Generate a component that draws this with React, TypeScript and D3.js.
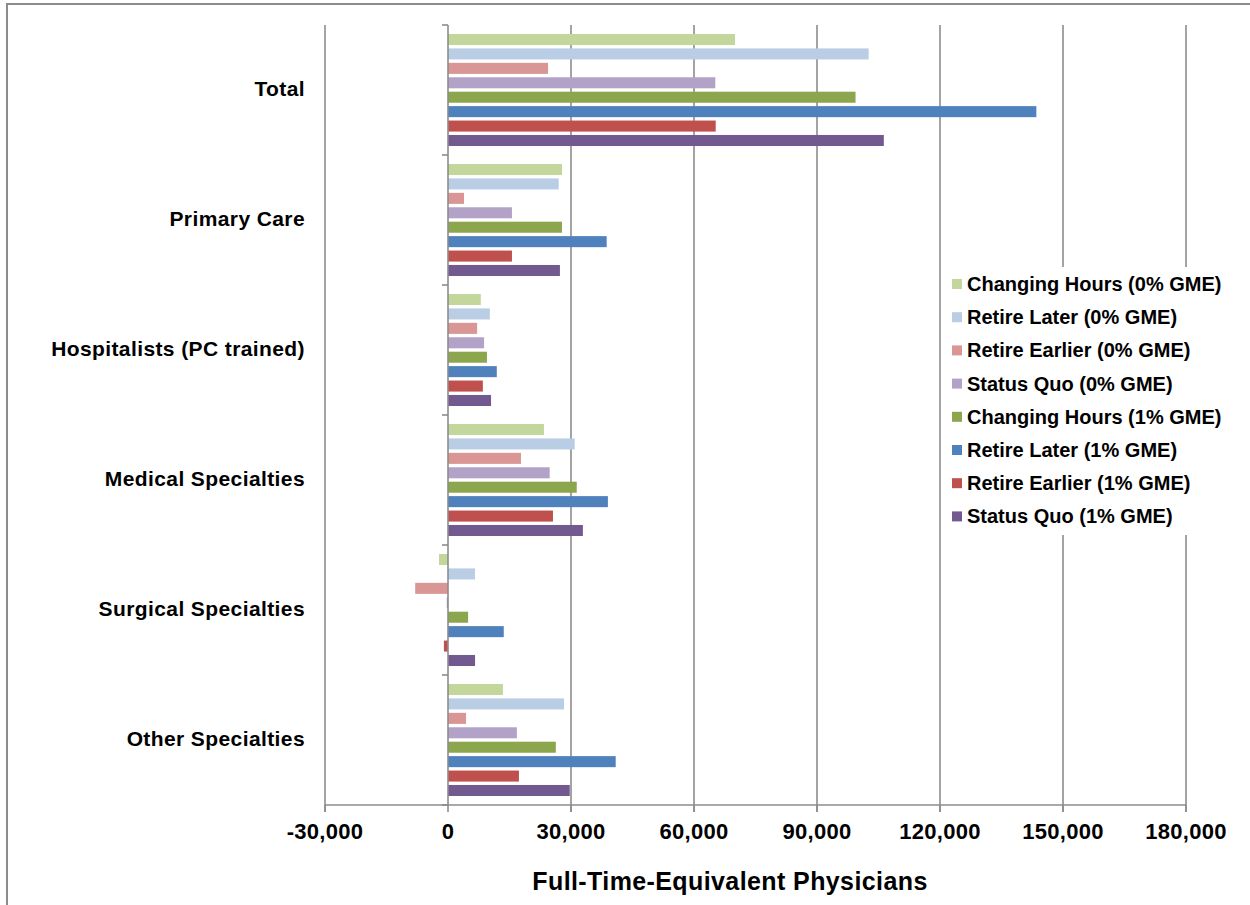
import React from "react";
import * as d3 from "d3";

const categories = [
  "Total",
  "Primary Care",
  "Hospitalists (PC trained)",
  "Medical Specialties",
  "Surgical Specialties",
  "Other Specialties",
];

const seriesNames = [
  "Changing Hours (0% GME)",
  "Retire Later (0% GME)",
  "Retire Earlier (0% GME)",
  "Status Quo (0% GME)",
  "Changing Hours (1% GME)",
  "Retire Later (1% GME)",
  "Retire Earlier (1% GME)",
  "Status Quo (1% GME)",
];

const seriesColors = [
  "#C3D69B",
  "#B9CDE5",
  "#D99694",
  "#B3A2C7",
  "#8BA64C",
  "#4F81BD",
  "#C0504D",
  "#725A90",
];

// values per series, in category order
const changingHours0 = [70000, 27800, 8000, 23400, -2200, 13400];
const retireLater0 = [102600, 27000, 10200, 30900, 6600, 28300];
const retireEarlier0 = [24400, 3900, 7100, 17800, -8000, 4400];
const statusQuo0 = [65200, 15600, 8800, 24800, -300, 16800];
const changingHours1 = [99400, 27800, 9500, 31400, 4900, 26300];
const retireLater1 = [143500, 38700, 11900, 39000, 13600, 40900];
const retireEarlier1 = [65300, 15600, 8500, 25600, -1000, 17300];
const statusQuo1 = [106300, 27300, 10500, 32900, 6600, 29700];

const seriesValues = [
  changingHours0,
  retireLater0,
  retireEarlier0,
  statusQuo0,
  changingHours1,
  retireLater1,
  retireEarlier1,
  statusQuo1,
];

const xTicks = [-30000, 0, 30000, 60000, 90000, 120000, 150000, 180000];
const xTitle = "Full-Time-Equivalent Physicians";

export default function App() {
  const W = 1250;
  const H = 905;
  const left = 325;
  const right = 1186;
  const top = 25;
  const bottom = 805;

  const x = d3.scaleLinear().domain([-30000, 180000]).range([left, right]);
  const y = d3.scaleBand<string>().domain(categories).range([top, bottom]).paddingInner(0).paddingOuter(0);
  const inner = d3
    .scaleBand<number>()
    .domain(d3.range(seriesNames.length))
    .range([7.3, y.bandwidth() - 7.3])
    .paddingInner(0.235)
    .paddingOuter(0.117);

  const fmt = (v: number) => d3.format(",")(v).replace("\u2212", "-");
  const font = "'Liberation Sans', Arial, sans-serif";
  const grid = "#8C8C8C";

  const legendX = 952;
  const legendY0 = 284;
  const legendStep = 33.2;

  return (
    <svg
      width={W}
      height={H}
      style={{ position: "absolute", left: 0, top: 0, background: "#fff" }}
      fontFamily={font}
    >
      <rect x={7} y={4} width={W} height={H} fill="#fff" stroke="#8C8C8C" strokeWidth={2} />
      {/* gridlines */}
      {xTicks.map((t) =>
        t === 0 ? null : (
          <line key={"g" + t} x1={x(t)} x2={x(t)} y1={top} y2={bottom + 7} stroke={grid} strokeWidth={1.6} />
        )
      )}
      {/* x axis */}
      <line x1={left} x2={right} y1={bottom} y2={bottom} stroke={grid} strokeWidth={1.6} />
      {xTicks.map((t) => (
        <line key={"t" + t} x1={x(t)} x2={x(t)} y1={bottom} y2={bottom + 7} stroke={grid} strokeWidth={1.6} />
      ))}
      {/* bars */}
      {categories.map((c, ci) =>
        seriesValues.map((vals, si) => {
          const v = vals[ci];
          const x0 = x(Math.min(0, v));
          const x1 = x(Math.max(0, v));
          return (
            <rect
              key={c + si}
              x={x0}
              y={(y(c) as number) + (inner(si) as number)}
              width={Math.max(0.8, x1 - x0)}
              height={inner.bandwidth()}
              fill={seriesColors[si]}
            />
          );
        })
      )}
      {/* y axis at zero */}
      <line x1={x(0)} x2={x(0)} y1={top} y2={bottom} stroke={grid} strokeWidth={1.6} />
      {d3.range(categories.length + 1).map((i) => {
        const yy = top + i * y.step();
        return <line key={"yt" + i} x1={x(0) - 6} x2={x(0)} y1={yy} y2={yy} stroke={grid} strokeWidth={1.6} />;
      })}
      {/* category labels */}
      {categories.map((c) => (
        <text
          key={"cl" + c}
          x={305}
          y={(y(c) as number) + y.bandwidth() / 2 - 1.5}
          textAnchor="end"
          dominantBaseline="central"
          fontSize={21}
          letterSpacing={0.4}
          fontWeight="bold"
          fill="#000"
        >
          {c}
        </text>
      ))}
      {/* x tick labels */}
      {xTicks.map((t) => (
        <text
          key={"xl" + t}
          x={x(t)}
          y={839}
          textAnchor="middle"
          fontSize={22}
          letterSpacing={0.3}
          fontWeight="bold"
          fill="#000"
        >
          {fmt(t)}
        </text>
      ))}
      <text x={730} y={890} textAnchor="middle" fontSize={25} letterSpacing={0.4} fontWeight="bold" fill="#000">
        {xTitle}
      </text>
      {/* legend */}
      <rect x={944} y={267} width={292} height={268} fill="#fff" />
      {seriesNames.map((s, i) => (
        <g key={"lg" + i}>
          <rect x={legendX} y={legendY0 + i * legendStep - 5} width={10} height={10} fill={seriesColors[i]} />
          <text
            x={legendX + 15}
            y={legendY0 + i * legendStep}
            dominantBaseline="central"
            fontSize={20}
            fontWeight="bold"
            fill="#000"
          >
            {s}
          </text>
        </g>
      ))}
    </svg>
  );
}
